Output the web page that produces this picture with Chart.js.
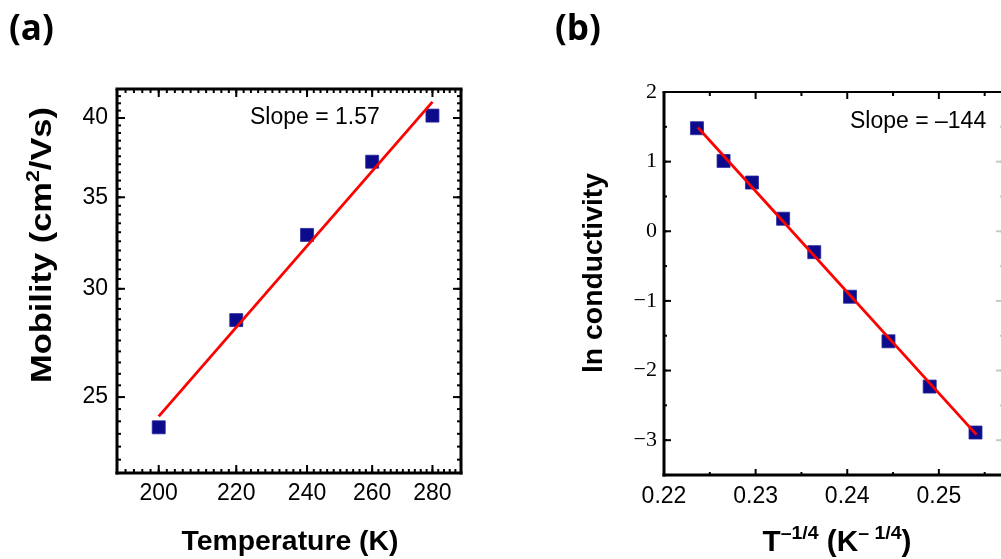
<!DOCTYPE html>
<html>
<head>
<meta charset="utf-8">
<script src="https://cdn.jsdelivr.net/npm/chart.js@4.4.1/dist/chart.umd.min.js"></script>
<style>
  html, body { margin: 0; padding: 0; background: #fff; width: 1001px; height: 559px; overflow: hidden; }
  .panel { position: absolute; top: 0; width: 520px; height: 559px; }
  #panelA { left: 0; }
  #panelB { left: 520px; }
</style>
</head>
<body>
<div class="panel" id="panelA"><canvas id="chartA"></canvas></div>
<div class="panel" id="panelB"><canvas id="chartB"></canvas></div>
<script>
// (a) mobility vs temperature, log-log
const tempK = [200, 220, 240, 260, 280];
const mobility = [23.76, 28.46, 32.85, 37.16, 40.16];
const fitTempK = [200, 280];
const fitMobility = [24.2, 41.1];
const tempTicks = [200, 220, 240, 260, 280];
const mobilityTicks = [25, 30, 35, 40];

// (b) ln conductivity vs T^-1/4
const invT = [0.2236, 0.2265, 0.2296, 0.2330, 0.2364, 0.2403, 0.2445, 0.2490, 0.2540];
const lnCond = [1.48, 1.01, 0.70, 0.18, -0.30, -0.94, -1.58, -2.23, -2.89];
const fitInvT = [0.2237, 0.2541];
const fitLnCond = [1.49, -2.92];
const invTTicks = [0.22, 0.23, 0.24, 0.25];
const lnTicks = [-3, -2, -1, 0, 1, 2];

const SANS = '"Liberation Sans", Arial, sans-serif';
const SERIF = '"Liberation Serif", "Times New Roman", serif';
const NAVY = '#0b0b8c';

function pts(xs, ys) {
  return xs.map((x, i) => ({ x: x, y: ys[i] }));
}

function range(from, to, step) {
  const out = [];
  for (let v = from; v <= to + step / 1000; v += step) out.push(+v.toFixed(6));
  return out;
}

// draws a title made of pieces (some superscript), centred on 0,0
function drawPieces(ctx, parts, size, supSize, supRise, target) {
  let total = 0;
  parts.forEach(p => {
    ctx.font = 'bold ' + (p.sup ? supSize : size) + 'px ' + SANS;
    p.w = ctx.measureText(p.t).width;
    total += p.w;
  });
  const k = target ? target / total : 1;
  ctx.scale(k, 1);
  let x = -total / 2;
  ctx.textAlign = 'left';
  ctx.textBaseline = 'alphabetic';
  parts.forEach(p => {
    ctx.font = 'bold ' + (p.sup ? supSize : size) + 'px ' + SANS;
    ctx.fillText(p.t, x, p.sup ? -supRise : 0);
    x += p.w;
  });
}

// frame, tick marks, titles and labels drawn on top of the datasets
function framePlugin(cfg) {
  return {
    id: 'frame',
    afterDatasetsDraw(chart) {
      const ctx = chart.ctx;
      const a = chart.chartArea;
      const xs = chart.scales.x, ys = chart.scales.y;
      ctx.save();
      ctx.strokeStyle = '#000';
      ctx.lineCap = 'butt';

      const xTicks = (vals, w, bottomLen, topLen) => {
        ctx.lineWidth = w;
        vals.forEach(v => {
          const px = xs.getPixelForValue(v);
          if (px < a.left - 1 || px > a.right + 1) return;
          ctx.beginPath();
          ctx.moveTo(px, a.bottom); ctx.lineTo(px, a.bottom - bottomLen);
          ctx.moveTo(px, a.top); ctx.lineTo(px, a.top + topLen);
          ctx.stroke();
        });
      };
      const yTicks = (vals, w, len, rightColor) => {
        vals.forEach(v => {
          const py = ys.getPixelForValue(v);
          if (py < a.top - 1 || py > a.bottom + 1) return;
          ctx.lineWidth = w;
          ctx.strokeStyle = '#000';
          ctx.beginPath();
          ctx.moveTo(a.left, py); ctx.lineTo(a.left + len, py);
          ctx.stroke();
          ctx.strokeStyle = rightColor;
          ctx.beginPath();
          ctx.moveTo(a.right, py); ctx.lineTo(a.right - len, py);
          ctx.stroke();
        });
        ctx.strokeStyle = '#000';
      };

      xTicks(cfg.xMinor, cfg.minorW, cfg.xMinorLen, cfg.xMinorTopLen);
      xTicks(cfg.xMajor, cfg.majorW, cfg.xMajorLen, cfg.xMajorTopLen);
      yTicks(cfg.yMinor, cfg.minorW, cfg.yMinorLen, cfg.rightColor);
      yTicks(cfg.yMajor, cfg.majorW, cfg.yMajorLen, cfg.rightColor);

      // frame
      const side = (x1, y1, x2, y2, w) => {
        ctx.lineWidth = w;
        ctx.beginPath(); ctx.moveTo(x1, y1); ctx.lineTo(x2, y2); ctx.stroke();
      };
      side(a.left - cfg.wLeft / 2, a.bottom, a.right + cfg.wRight / 2, a.bottom, cfg.wBottom);
      side(a.left - cfg.wLeft / 2, a.top, a.right + cfg.wRight / 2, a.top, cfg.wTop);
      side(a.left, a.top, a.left, a.bottom + cfg.wBottom / 2, cfg.wLeft);
      side(a.right, a.top, a.right, a.bottom + cfg.wBottom / 2, cfg.wRight);

      // panel letter and slope note
      ctx.fillStyle = '#000';
      ctx.textBaseline = 'middle';
      ctx.textAlign = 'left';
      ctx.font = 'bold 35px "Open Sans", ' + SANS;
      ctx.fillText(cfg.panel, cfg.panelX, 30);

      ctx.textBaseline = 'alphabetic';
      ctx.font = '23px ' + SANS;
      ctx.fillText(cfg.slope, cfg.slopeX, cfg.slopeY);

      // y title (rotated)
      ctx.save();
      ctx.translate(cfg.yTitleX, cfg.yTitleY);
      ctx.rotate(-Math.PI / 2);
      drawPieces(ctx, cfg.yTitle, cfg.yTitleSize, 18, 12, cfg.yTitleLen);
      ctx.restore();

      // x title
      ctx.save();
      ctx.translate(cfg.xTitleX, cfg.xTitleY);
      drawPieces(ctx, cfg.xTitle, cfg.xTitleSize, 19, 12, cfg.xTitleLen);
      ctx.restore();

      ctx.restore();
    }
  };
}

const baseOpts = {
  responsive: true,
  maintainAspectRatio: false,
  animation: false,
  plugins: { legend: { display: false }, tooltip: { enabled: false } }
};

function fitDataset(xsArr, ysArr) {
  return {
    data: pts(xsArr, ysArr),
    showLine: true,
    borderColor: '#ff0000',
    borderWidth: 2.8,
    pointRadius: 0,
    fill: false
  };
}

function markerDataset(xsArr, ysArr) {
  return {
    data: pts(xsArr, ysArr),
    pointStyle: 'rect',
    pointRadius: 9.2,
    backgroundColor: NAVY,
    borderColor: '#2a2aa0',
    borderWidth: 0.8,
    showLine: false
  };
}

const noGrid = { display: false, drawTicks: false };

// panel (a)
new Chart(document.getElementById('chartA'), {
  type: 'scatter',
  data: {
    datasets: [fitDataset(fitTempK, fitMobility), markerDataset(tempK, mobility)]
  },
  options: Object.assign({}, baseOpts, {
    layout: { padding: { top: 89, right: 59, left: 0, bottom: 0 } },
    scales: {
      x: {
        type: 'logarithmic', min: 190, max: 290,
        grid: noGrid, border: { display: false },
        afterBuildTicks: s => { s.ticks = tempTicks.map(v => ({ value: v })); },
        afterFit: s => { s.height = 86; },
        ticks: { autoSkip: false, maxRotation: 0, padding: 7, color: '#000',
                 font: { family: SANS, size: 23 }, callback: v => String(v) }
      },
      y: {
        type: 'logarithmic', min: 22, max: 42,
        grid: noGrid, border: { display: false },
        afterBuildTicks: s => { s.ticks = mobilityTicks.map(v => ({ value: v })); },
        afterFit: s => { s.width = 117; },
        ticks: { autoSkip: false, padding: 9, color: '#000',
                 font: { family: SANS, size: 23 }, callback: v => String(v) }
      }
    }
  }),
  plugins: [framePlugin({
    xMajor: tempTicks, xMinor: range(190, 290, 2),
    yMajor: mobilityTicks, yMinor: range(22, 42, 0.5),
    majorW: 2, minorW: 2,
    xMajorLen: 8, xMajorTopLen: 8, xMinorLen: 4, xMinorTopLen: 4,
    yMajorLen: 8, yMinorLen: 4, rightColor: '#000',
    wLeft: 3, wRight: 3, wTop: 3, wBottom: 3,
    panel: '(a)', panelX: 9,
    slope: 'Slope = 1.57', slopeX: 250, slopeY: 124,
    yTitle: [{ t: 'Mobility (cm' }, { t: '2', sup: true }, { t: '/Vs)' }],
    yTitleSize: 29, yTitleLen: 276, yTitleX: 51, yTitleY: 245,
    xTitle: [{ t: 'Temperature (K)' }], xTitleSize: 28, xTitleLen: 217,
    xTitleX: 290, xTitleY: 550
  })]
});

// panel (b)
new Chart(document.getElementById('chartB'), {
  type: 'scatter',
  data: {
    datasets: [fitDataset(fitInvT, fitLnCond), markerDataset(invT, lnCond)]
  },
  options: Object.assign({}, baseOpts, {
    layout: { padding: { top: 92, right: 37, left: 0, bottom: 0 } },
    scales: {
      x: {
        type: 'linear', min: 0.22, max: 0.257,
        grid: noGrid, border: { display: false },
        afterBuildTicks: s => { s.ticks = invTTicks.map(v => ({ value: v })); },
        afterFit: s => { s.height = 84; },
        ticks: { autoSkip: false, maxRotation: 0, padding: 8, color: '#000',
                 font: { family: SANS, size: 23 }, callback: v => v.toFixed(2) }
      },
      y: {
        type: 'linear', min: -3.5, max: 2,
        grid: noGrid, border: { display: false },
        afterBuildTicks: s => { s.ticks = lnTicks.map(v => ({ value: v })); },
        afterFit: s => { s.width = 144; },
        ticks: { autoSkip: false, padding: 7, color: '#000',
                 font: { family: SERIF, size: 22 },
                 callback: v => v < 0 ? '\u2212' + Math.abs(v) : String(v) }
      }
    }
  }),
  plugins: [framePlugin({
    xMajor: invTTicks.concat([0.26]), xMinor: range(0.225, 0.26, 0.01),
    yMajor: lnTicks, yMinor: range(-3.5, 2, 0.5),
    majorW: 2, minorW: 2,
    xMajorLen: 6, xMajorTopLen: 7, xMinorLen: 3, xMinorTopLen: 4,
    yMajorLen: 7, yMinorLen: 3, rightColor: '#c8c8c8',
    wLeft: 3, wRight: 2, wTop: 2, wBottom: 3,
    panel: '(b)', panelX: 35,
    slope: 'Slope = \u2013144', slopeX: 330, slopeY: 128,
    yTitle: [{ t: 'ln conductivity' }], yTitleSize: 28, yTitleLen: 200,
    yTitleX: 82, yTitleY: 273,
    xTitle: [{ t: 'T' }, { t: '\u20131/4', sup: true }, { t: ' (K' }, { t: '\u2013 1/4', sup: true }, { t: ')' }],
    xTitleSize: 29, xTitleLen: 149, xTitleX: 317, xTitleY: 551
  })]
});
</script>
</body>
</html>
